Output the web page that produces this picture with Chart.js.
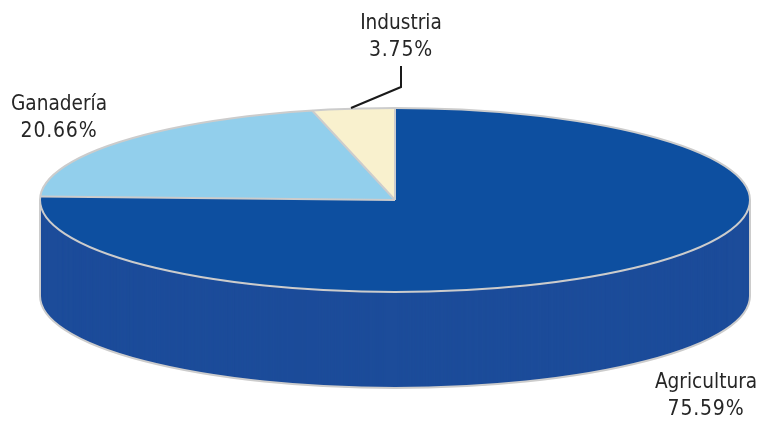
<!DOCTYPE html>
<html>
<head>
<meta charset="utf-8">
<style>
    html, body { margin: 0; padding: 0; background: #fff; }
    canvas { display: block; }
</style>
<script src="https://cdn.jsdelivr.net/npm/chart.js@4/dist/chart.umd.min.js"></script>
</head>
<body>
<canvas id="pieChart" width="760" height="422"></canvas>
<script>
const categories = ['Agricultura', 'Ganadería', 'Industria'];
const shares = [75.59, 20.66, 3.75];
const sliceColors = ['#0d4fa0', '#92cfec', '#f9f1ce'];

// Where the tilted pie sits on the page
const pieX = 395, pieY = 200, radiusX = 355, radiusY = 92, depth = 96;
const sideColor = '#1c4c9a';
const edgeColor = '#cccccc';
const textColor = '#262626';

// Label centre for each slice, two lines
const labelSpots = [
    { x: 706, y: 383 },
    { x: 59, y: 105 },
    { x: 401, y: 24 }
];

function tilt(ctx, arc) {
    ctx.translate(pieX, pieY);
    ctx.scale(radiusX / arc.outerRadius, radiusY / arc.outerRadius);
    ctx.translate(-arc.x, -arc.y);
}

const tiltedPie = {
    id: 'tiltedPie',
    beforeDatasetsDraw(chart) {
        const ctx = chart.ctx;
        const arcs = chart.getDatasetMeta(0).data;

        // Side wall: the same arcs stacked downward
        for (let dy = depth; dy > 0; dy--) {
            arcs.forEach(arc => {
                const saved = arc.options;
                arc.options = Object.assign({}, saved, { backgroundColor: sideColor, borderWidth: 0 });
                ctx.save();
                ctx.translate(0, dy);
                tilt(ctx, arc);
                arc.draw(ctx);
                ctx.restore();
                arc.options = saved;
            });
        }

        ctx.save();
        tilt(ctx, arcs[0]);
    },
    afterDatasetsDraw(chart) {
        const ctx = chart.ctx;
        const arcs = chart.getDatasetMeta(0).data;
        ctx.restore();

        ctx.save();
        ctx.strokeStyle = edgeColor;
        ctx.lineWidth = 2;

        // Outline of the wall
        ctx.beginPath();
        ctx.moveTo(pieX - radiusX, pieY);
        ctx.lineTo(pieX - radiusX, pieY + depth);
        ctx.ellipse(pieX, pieY + depth, radiusX, radiusY, 0, Math.PI, 0, true);
        ctx.lineTo(pieX + radiusX, pieY);
        ctx.stroke();

        // Top face and slice edges
        ctx.beginPath();
        ctx.ellipse(pieX, pieY, radiusX, radiusY, 0, 0, Math.PI * 2);
        ctx.stroke();
        arcs.forEach(arc => {
            ctx.beginPath();
            ctx.moveTo(pieX, pieY);
            ctx.lineTo(pieX + radiusX * Math.cos(arc.startAngle), pieY + radiusY * Math.sin(arc.startAngle));
            ctx.stroke();
        });
        ctx.restore();

        // Leader line for Industria
        ctx.save();
        ctx.strokeStyle = '#1a1a1a';
        ctx.lineWidth = 2;
        ctx.beginPath();
        ctx.moveTo(351, 108);
        ctx.lineTo(401, 87);
        ctx.lineTo(401, 66);
        ctx.stroke();
        ctx.restore();

        // Labels
        ctx.save();
        ctx.fillStyle = textColor;
        ctx.textAlign = 'center';
        ctx.textBaseline = 'middle';
        categories.forEach((name, i) => {
            ctx.font = '20.6px "DejaVu Sans Condensed", "DejaVu Sans"';
            ctx.letterSpacing = '0px';
            ctx.fillText(name, labelSpots[i].x, labelSpots[i].y);
            ctx.font = '21px "DejaVu Sans Condensed", "DejaVu Sans"';
            ctx.letterSpacing = '0.8px';
            ctx.fillText(shares[i].toFixed(2) + '%', labelSpots[i].x, labelSpots[i].y + 27);
        });
        ctx.restore();
    }
};

new Chart(document.getElementById('pieChart'), {
    type: 'pie',
    data: {
        labels: categories,
        datasets: [{
            data: shares,
            backgroundColor: sliceColors,
            borderWidth: 0,
            clip: false
        }]
    },
    options: {
        responsive: false,
        animation: false,
        layout: { padding: 0 },
        plugins: {
            legend: { display: false },
            tooltip: { enabled: false }
        }
    },
    plugins: [tiltedPie]
});
</script>
</body>
</html>
